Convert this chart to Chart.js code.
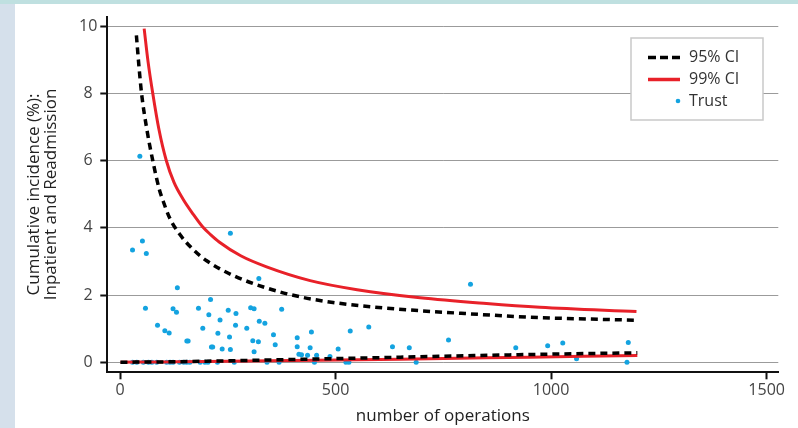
<!DOCTYPE html>
<html>
<head>
<meta charset="utf-8">
<script src="https://cdn.jsdelivr.net/npm/chart.js@4.4.0/dist/chart.umd.min.js"></script>
<style>
    html, body { margin: 0; padding: 0; }
    body { width: 798px; height: 428px; background: #d5e0eb; position: relative; overflow: hidden; }
    .top-band { position: absolute; left: 0; top: 0; width: 798px; height: 4px; background: #bfe0e0; }
    .panel { position: absolute; left: 15px; top: 4px; width: 783px; height: 424px; background: #fff; }
</style>
</head>
<body>
<div class="top-band"></div>
<div class="panel"><canvas id="chart" width="783" height="424"></canvas></div>
<script>
// funnel limits
const upper95X = [38, 44, 50, 62, 76, 91, 100, 115, 139, 170, 201, 263, 340, 417, 494, 600, 700, 800, 950, 1200]
const upper95Y = [9.73, 8.8, 8.0, 6.95, 6.0, 5.15, 4.8, 4.3, 3.8, 3.35, 3.02, 2.58, 2.21, 1.95, 1.78, 1.63, 1.53, 1.45, 1.34, 1.25]
const lower95X = [1, 100, 200, 400, 650, 950, 1200]
const lower95Y = [0, 0.01, 0.03, 0.08, 0.15, 0.23, 0.28]

const upper99X = [56, 65, 76, 90, 107, 125, 146, 170, 191, 210, 230, 280, 340, 441, 550, 696, 850, 974, 1198]
const upper99Y = [9.93, 8.95, 8.0, 6.95, 6.02, 5.36, 4.86, 4.4, 4.04, 3.8, 3.58, 3.17, 2.84, 2.43, 2.16, 1.92, 1.75, 1.64, 1.51]
const lower99X = [1, 100, 200, 400, 650, 950, 1200]
const lower99Y = [0, 0.01, 0.02, 0.05, 0.09, 0.15, 0.2]

// trusts
const trustX = [46, 29, 52, 61, 256, 133, 322, 813, 59, 123, 131, 182, 210, 206, 87, 104, 114, 192, 155, 158,
    212, 215, 227, 232, 237, 251, 254, 256, 268, 269, 294, 303, 311, 308, 311, 321, 323, 336, 356, 360,
    375, 411, 411, 415, 421, 435, 441, 444, 456, 487, 506, 534, 577, 632, 671, 762, 918, 992, 1027, 1179, 1059,
    29, 39, 54, 66, 74, 85, 108, 116, 123, 138, 148, 155, 162, 186, 197, 204, 226, 265, 341, 369, 451, 524, 531, 687, 1176]
const trustY = [6.13, 3.34, 3.61, 3.24, 3.84, 2.22, 2.49, 2.32, 1.61, 1.59, 1.49, 1.61, 1.87, 1.41, 1.10, 0.94, 0.87, 1.01, 0.63, 0.63,
    0.45, 0.45, 0.86, 1.26, 0.39, 1.55, 0.75, 0.38, 1.10, 1.45, 1.01, 1.62, 1.59, 0.64, 0.31, 0.61, 1.22, 1.16, 0.82, 0.52,
    1.58, 0.73, 0.46, 0.24, 0.22, 0.21, 0.43, 0.90, 0.21, 0.17, 0.39, 0.93, 1.05, 0.46, 0.43, 0.66, 0.43, 0.49, 0.57, 0.59, 0.1,
    0, 0, 0, 0, 0, 0, 0, 0, 0, 0, 0, 0, 0, 0, 0, 0, 0, 0, 0, 0, 0, 0, 0, 0, 0]

const xTicks = [0, 500, 1000, 1500]
const yTicks = [0, 2, 4, 6, 8, 10]

const legendLabels = ['95% CI', '99% CI', 'Trust']

const red = 'rgb(232, 33, 41)'
const blue = 'rgb(20, 163, 224)'

function toPoints(xs, ys){
    return xs.map((x, i) => ({x: x, y: ys[i]}))
}

function ciLine(xs, ys, color, dashed){
    return {
        data: toPoints(xs, ys),
        showLine: true,
        borderColor: color,
        borderWidth: dashed ? 3.5 : 3,
        borderDash: dashed ? [7, 5] : [],
        pointRadius: 0,
        fill: false,
        cubicInterpolationMode: 'monotone'
    }
}

const boxLegend = {
    id: 'boxLegend',
    afterDraw(chart){
        const ctx = chart.ctx
        ctx.save()
        ctx.fillStyle = '#fff'
        ctx.fillRect(616, 34, 132, 82)
        ctx.strokeStyle = '#c9c9c9'
        ctx.lineWidth = 1.5
        ctx.strokeRect(616, 34, 132, 82)

        ctx.lineWidth = 3.5
        ctx.strokeStyle = '#000'
        ctx.setLineDash([8, 4])
        ctx.beginPath()
        ctx.moveTo(633, 53.5)
        ctx.lineTo(665, 53.5)
        ctx.stroke()

        ctx.setLineDash([])
        ctx.lineWidth = 3.5
        ctx.strokeStyle = red
        ctx.beginPath()
        ctx.moveTo(633, 75.5)
        ctx.lineTo(665, 75.5)
        ctx.stroke()

        ctx.fillStyle = blue
        ctx.beginPath()
        ctx.arc(663, 97, 2.3, 0, Math.PI * 2)
        ctx.fill()

        ctx.fillStyle = '#333'
        ctx.font = '16px "Open Sans"'
        ctx.textBaseline = 'middle'
        ctx.textAlign = 'left'
        ctx.fillText(legendLabels[0], 674, 53)
        ctx.fillText(legendLabels[1], 674, 75)
        ctx.fillText(legendLabels[2], 674, 97)
        ctx.restore()
    }
}

const tickFont = {family: "'Open Sans', sans-serif", size: 16}

new Chart(document.getElementById('chart'), {
    type: 'scatter',
    data: {
        datasets: [
            ciLine(upper95X, upper95Y, '#000', true),
            ciLine(lower95X, lower95Y, '#000', true),
            ciLine(upper99X, upper99Y, red, false),
            ciLine(lower99X, lower99Y, red, false),
            {
                data: toPoints(trustX, trustY),
                backgroundColor: blue,
                borderWidth: 0,
                pointRadius: 2.5
            }
        ]
    },
    options: {
        responsive: false,
        animation: false,
        layout: {padding: {left: 0, top: 11, right: 19.7, bottom: 0}},
        plugins: {legend: {display: false}, tooltip: {enabled: false}},
        scales: {
            x: {
                type: 'linear',
                min: -29.5,
                max: 1527,
                afterFit: scale => { scale.height = 55.7 },
                afterBuildTicks: scale => { scale.ticks = xTicks.map(v => ({value: v})) },
                ticks: {font: tickFont, color: '#444', padding: 2, callback: v => String(v)},
                grid: {drawOnChartArea: false, drawTicks: true, tickLength: 7, tickColor: '#111', tickWidth: 2},
                border: {display: true, color: '#111', width: 2},
                title: {
                    display: true,
                    text: 'number of operations',
                    font: {family: "'Open Sans', sans-serif", size: 17},
                    color: '#222',
                    padding: {top: 0, bottom: 2}
                }
            },
            y: {
                type: 'linear',
                min: -0.3,
                max: 10.29,
                afterFit: scale => { scale.width = 92.3 },
                afterBuildTicks: scale => { scale.ticks = yTicks.map(v => ({value: v})) },
                ticks: {font: tickFont, color: '#444', padding: 3, crossAlign: 'center', callback: v => String(v)},
                grid: {color: '#9b9b9b', lineWidth: 1, tickLength: 7, tickColor: '#111', tickWidth: 2},
                border: {display: true, color: '#111', width: 2},
                title: {
                    display: true,
                    text: ['Cumulative incidence (%):', 'Inpatient and Readmission'],
                    font: {family: "'Open Sans', sans-serif", size: 17, lineHeight: 1},
                    color: '#222',
                    padding: {top: 10.5, bottom: 0}
                }
            }
        }
    },
    plugins: [boxLegend]
})
</script>
</body>
</html>
